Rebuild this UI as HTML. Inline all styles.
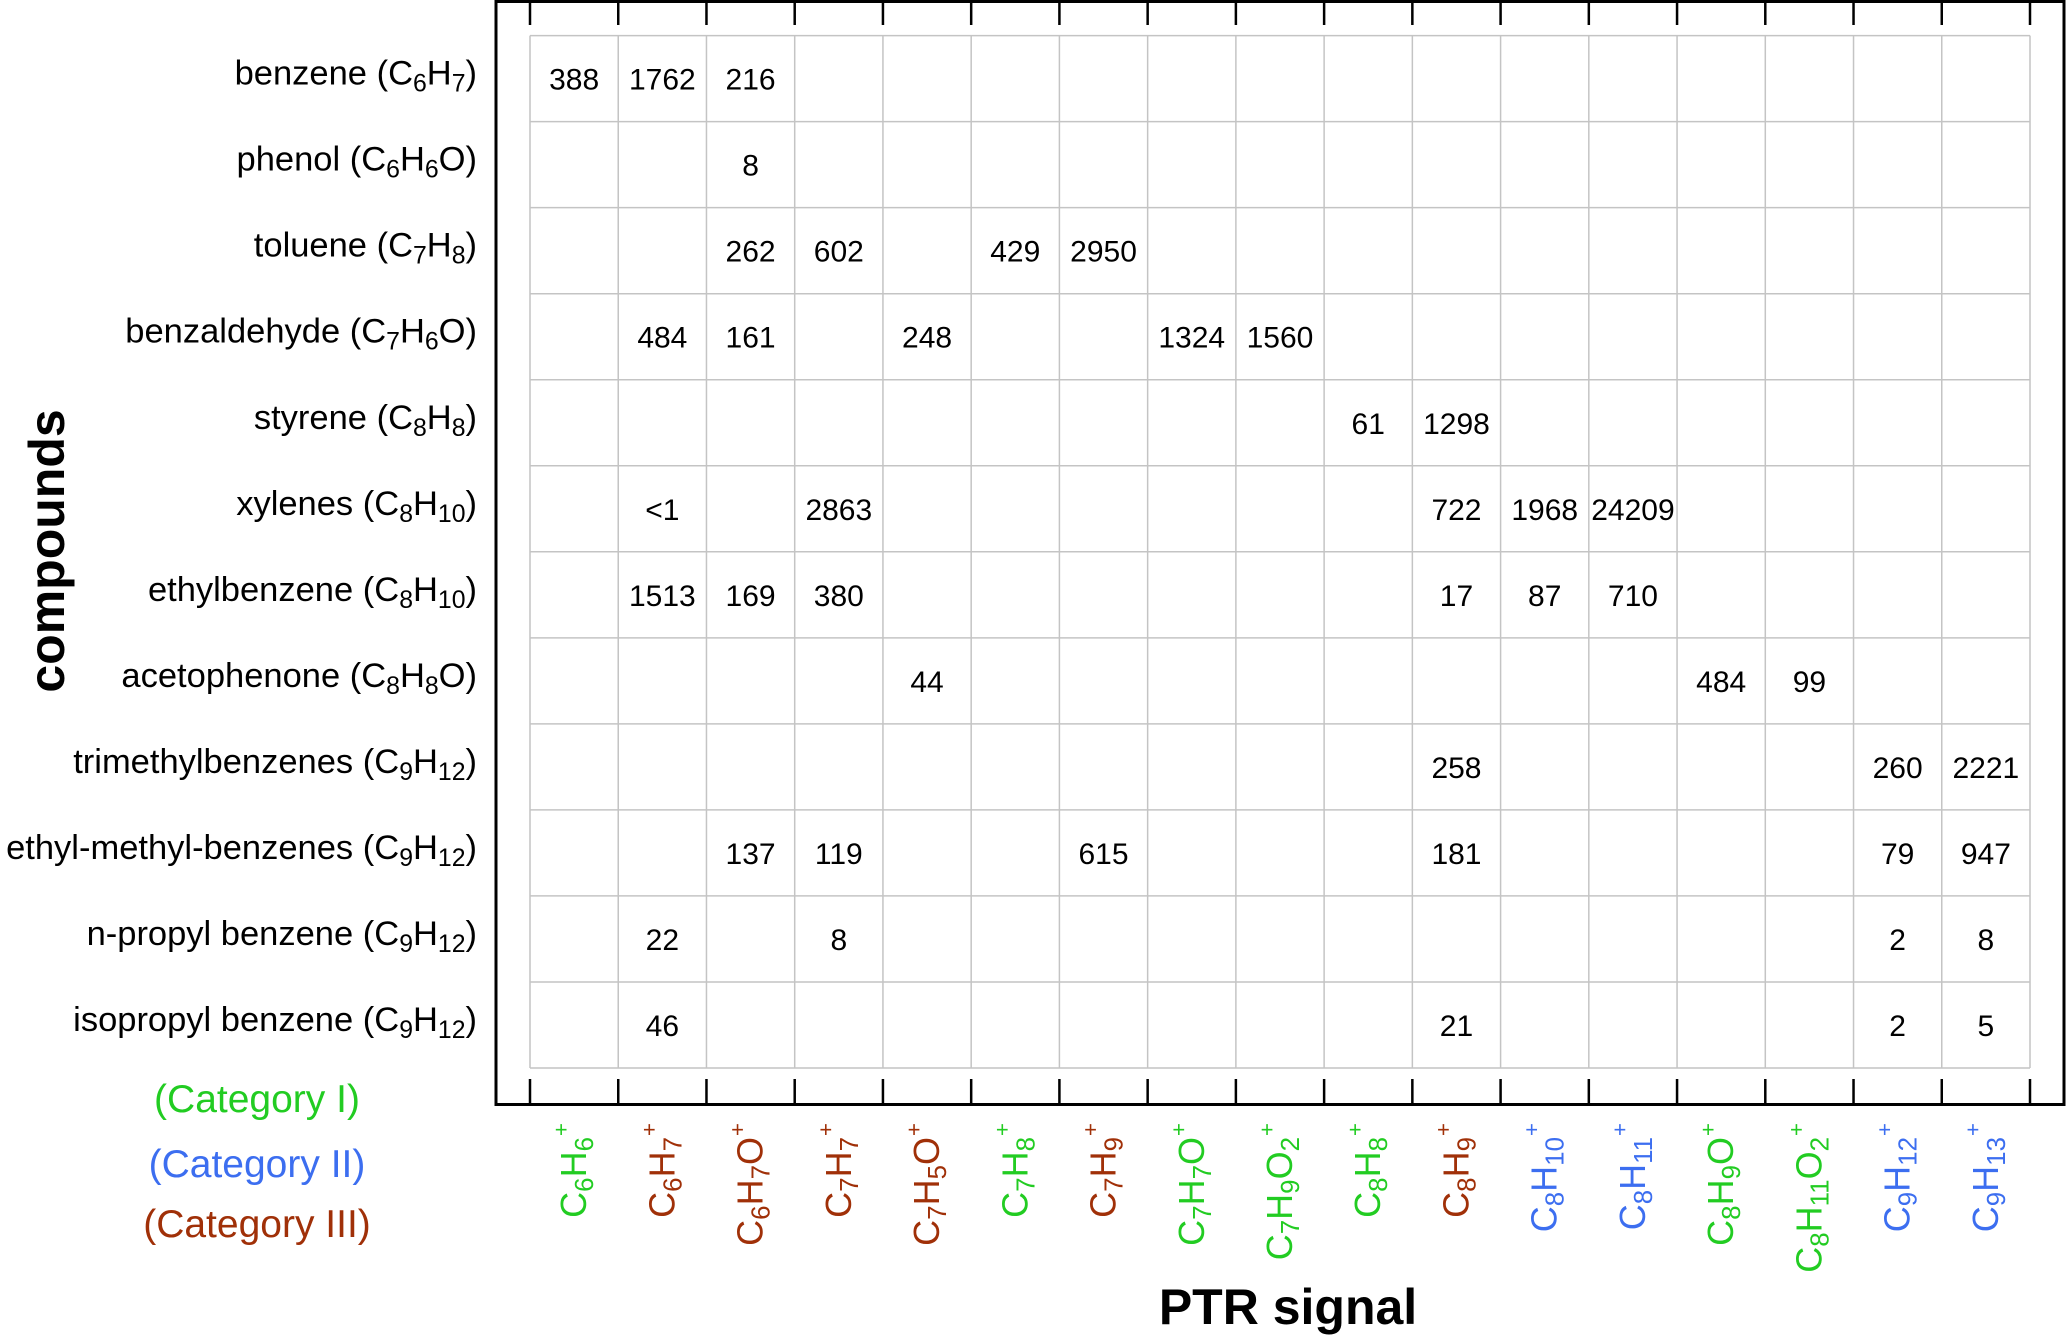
<!DOCTYPE html>
<html><head><meta charset="utf-8">
<style>
html,body{margin:0;padding:0;background:#fff;}
svg{display:block;font-family:"Liberation Sans",Arial,sans-serif;}
</style></head>
<body>
<svg id="chart" width="2067" height="1337" viewBox="0 0 2067 1337" xmlns="http://www.w3.org/2000/svg">
<rect x="0" y="0" width="2067" height="1337" fill="#fff"/>
<g id="grid"></g>
<g id="cells"></g>
<g id="rows"></g>
<g id="cols"></g>
<g id="frame"></g>
<text x="0" y="0" transform="translate(64,551) rotate(-90)" text-anchor="middle" font-size="50" font-weight="bold">compounds</text>
<text x="1288" y="1324" text-anchor="middle" font-size="50" font-weight="bold">PTR signal</text>
<text x="257" y="1112" text-anchor="middle" font-size="39" fill="#22cc22">(Category I)</text>
<text x="257" y="1177" text-anchor="middle" font-size="39" fill="#3c6ef0">(Category II)</text>
<text x="257" y="1237" text-anchor="middle" font-size="39" fill="#a03008">(Category III)</text>
</svg>
<script>
const compounds = ["benzene (C6H7)","phenol (C6H6O)","toluene (C7H8)","benzaldehyde (C7H6O)","styrene (C8H8)","xylenes (C8H10)","ethylbenzene (C8H10)","acetophenone (C8H8O)","trimethylbenzenes (C9H12)","ethyl-methyl-benzenes (C9H12)","n-propyl benzene (C9H12)","isopropyl benzene (C9H12)"];
const ions = ["C6H6","C6H7","C6H7O","C7H7","C7H5O","C7H8","C7H9","C7H7O","C7H9O2","C8H8","C8H9","C8H10","C8H11","C8H9O","C8H11O2","C9H12","C9H13"];
const ionCategory = [1,3,3,3,3,1,3,1,1,1,3,2,2,1,1,2,2];
const rowBenzene = ["388","1762","216","","","","","","","","","","","","","",""];
const rowPhenol = ["","","8","","","","","","","","","","","","","",""];
const rowToluene = ["","","262","602","","429","2950","","","","","","","","","",""];
const rowBenzaldehyde = ["","484","161","","248","","","1324","1560","","","","","","","",""];
const rowStyrene = ["","","","","","","","","","61","1298","","","","","",""];
const rowXylenes = ["","<1","","2863","","","","","","","722","1968","24209","","","",""];
const rowEthylbenzene = ["","1513","169","380","","","","","","","17","87","710","","","",""];
const rowAcetophenone = ["","","","","44","","","","","","","","","484","99","",""];
const rowTrimethyl = ["","","","","","","","","","","258","","","","","260","2221"];
const rowEthylMethyl = ["","","137","119","","","615","","","","181","","","","","79","947"];
const rowNPropyl = ["","22","","8","","","","","","","","","","","","2","8"];
const rowIsopropyl = ["","46","","","","","","","","","21","","","","","2","5"];
const values = [rowBenzene,rowPhenol,rowToluene,rowBenzaldehyde,rowStyrene,rowXylenes,rowEthylbenzene,rowAcetophenone,rowTrimethyl,rowEthylMethyl,rowNPropyl,rowIsopropyl];

const NS="http://www.w3.org/2000/svg";
const X0=530, X1=2030, Y0=35.6, Y1=1068;
const cw=(X1-X0)/ions.length, rh=(Y1-Y0)/compounds.length;
const xC=i=>X0+cw*(i+0.5), xL=i=>X0+cw*i, yC=j=>Y0+rh*(j+0.5), yL=j=>Y0+rh*j;
const colors={1:"#22cc22",2:"#3c6ef0",3:"#a03008"};
function el(tag,attrs,parent){const e=document.createElementNS(NS,tag);for(const k in attrs)e.setAttribute(k,attrs[k]);parent.appendChild(e);return e;}
function formula(parent,f,size){
  const parts=f.match(/[A-Za-z]+|\d+/g);
  parts.forEach(p=>{
    const t=document.createElementNS(NS,"tspan");
    if(/\d/.test(p)){t.setAttribute("baseline-shift",(-size*0.2).toFixed(1));t.setAttribute("font-size",(size*0.72).toFixed(1));}
    t.textContent=p;parent.appendChild(t);
  });
}
const grid=document.getElementById("grid");
for(let i=0;i<=ions.length;i++){
  const l=el("line",{x1:xL(i),x2:xL(i),y1:Y0,y2:Y1,stroke:"#c4c4c4","stroke-width":1.5},grid);
  
  
}
for(let j=0;j<=compounds.length;j++){
  const l=el("line",{x1:X0,x2:X1,y1:yL(j),y2:yL(j),stroke:"#c4c4c4","stroke-width":1.5},grid);
  
  
}
const frame=document.getElementById("frame");
const box=el("rect",{x:496,y:1.5,width:1568,height:1103,fill:"none",stroke:"#000","stroke-width":3},frame);


for(let i=0;i<=ions.length;i++){
  const t1=el("line",{x1:xL(i),x2:xL(i),y1:0,y2:25,stroke:"#000","stroke-width":2.5},frame);
  
  
  const t2=el("line",{x1:xL(i),x2:xL(i),y1:1079,y2:1105,stroke:"#000","stroke-width":2.5},frame);
  
  
}
const cells=document.getElementById("cells");
values.forEach((row,j)=>row.forEach((v,i)=>{
  if(v==="")return;
  const t=el("text",{x:xC(i),y:yC(j)+11,"text-anchor":"middle","font-size":30},cells);
  
  
  t.textContent=v;
}));
const rows=document.getElementById("rows");
compounds.forEach((c,j)=>{
  const m=c.match(/^(.*)\((.*)\)$/);
  const t=el("text",{x:477,y:yC(j)+6,"text-anchor":"end","font-size":34.5},rows);
  
  
  t.appendChild(document.createTextNode(m[1]+"("));
  formula(t,m[2],34.5);
  t.appendChild(document.createTextNode(")"));
});
const cols=document.getElementById("cols");
ions.forEach((f,i)=>{
  const t=el("text",{transform:`translate(${xC(i)+12},1137) rotate(-90)`,"text-anchor":"end","font-size":36,fill:colors[ionCategory[i]]},cols);
  
  
  formula(t,f,36);
  const p=el("text",{x:xC(i)-13,y:1137,"text-anchor":"middle","font-size":22,fill:colors[ionCategory[i]]},cols);
  
  
  p.textContent="+";
});
</script>
</body></html>
